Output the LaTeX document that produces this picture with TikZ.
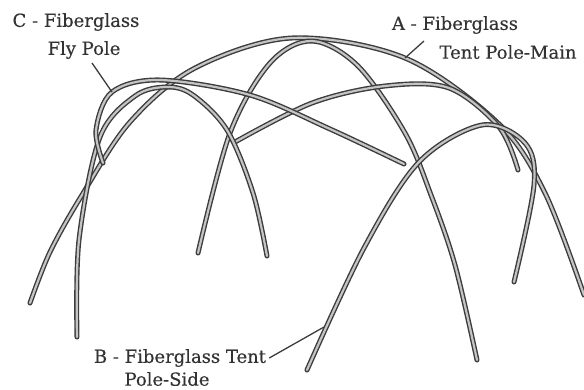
\documentclass[tikz,border=0pt]{standalone}
\usepackage{fontspec}
\setmainfont[FakeBold=0.35]{DejaVu Serif}
\usepackage{xcolor}
\usetikzlibrary{positioning}
\definecolor{TubeDark}{HTML}{3C3C3C}
\definecolor{TubeCore}{HTML}{C4C4C4}
\definecolor{LabelText}{HTML}{333333}

\begin{document}
\begin{tikzpicture}[
    x=1pt, y=-1pt,
    pole/.style={
        draw=TubeDark, line width=1.4pt, double=TubeCore, double distance=2.2pt,
        line cap=round, line join=round
    },
    leader/.style={
        draw=TubeDark, line width=1.3pt
    },
    partlabel/.style={
        inner sep=0pt, text=LabelText, font=\fontsize{18}{20}\selectfont
    }
]
    \useasboundingbox (0,0) rectangle (584,389);

    % Poles
    \draw[pole] plot[smooth, tension=0.55] coordinates {(30,303) (50,252) (82,195) (130,122) (195,68) (292,38) (405,58) (499,124) (545,193) (584,295)};
    \draw[pole] plot[smooth, tension=0.55] coordinates {(198,253) (230,133) (270,63) (312,41) (358,66) (405,133) (431,195) (455,265) (477,360)};
    \draw[pole] plot[smooth, tension=0.55] coordinates {(235,142) (312,103) (385,86) (449,88) (499,127) (518,170)};
    \draw[pole] plot[smooth, tension=0.55] coordinates {(77,337) (79,240) (100,137) (135,96) (167,87) (193,95) (227,130) (253,193) (267,256)};
    \draw[pole] plot[smooth, tension=0.55] coordinates {(103,163) (96,130) (112,92) (160,80) (250,95) (330,129) (404,164)};
    \draw[pole] plot[smooth, tension=0.55] coordinates {(307,370) (364,248) (419,162) (482,125) (525,143) (534,185) (514,282)};

    % Labels
    \node[partlabel] (labelC) at (76,22) {C - Fiberglass};
    \node[partlabel] (labelCb) at (84,50) {Fly Pole};
    \node[partlabel] (labelA) at (455,25) {A - Fiberglass};
    \node[partlabel] (labelAb) at (508,52) {Tent Pole-Main};
    \node[partlabel] (labelB) at (180,358) {B - Fiberglass Tent};
    \node[partlabel] (labelBb) at (167,379) {Pole-Side};

    % Leaders
    \coordinate (tipC) at (112,92);
    \coordinate (tipA) at (405,58);
    \coordinate (tipB) at (324,327);
    \draw[leader] (92,63) -- (tipC);
    \draw[leader] (424,41) -- (tipA);
    \draw[leader] ([xshift=3pt]labelB.east) -- (tipB);

\end{tikzpicture}
\end{document}
